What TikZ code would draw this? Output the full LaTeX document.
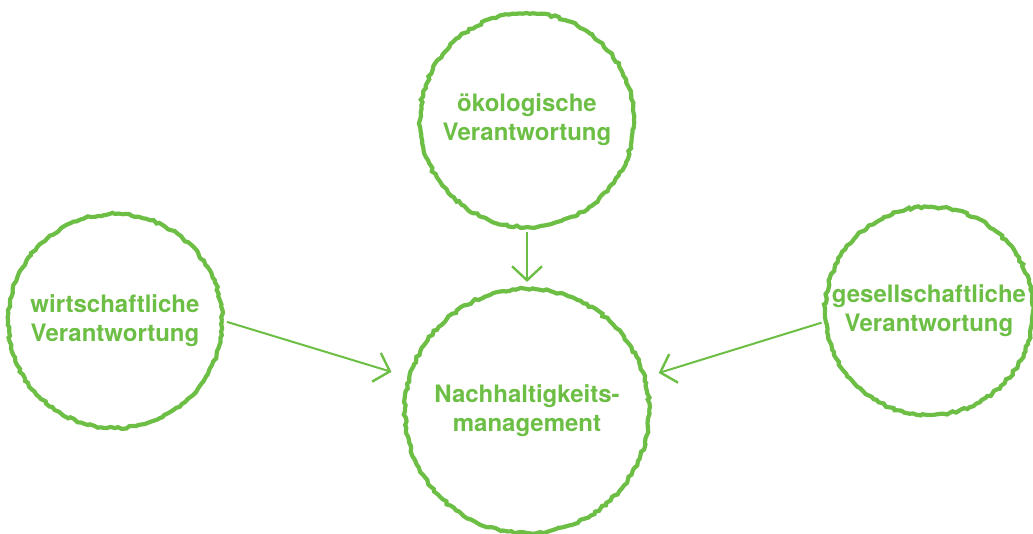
\documentclass[tikz,border=0pt]{standalone}
\usepackage{fontspec}
\setmainfont{TeX Gyre Heros}
\usetikzlibrary{arrows.meta,decorations.pathmorphing}
\definecolor{leaf}{RGB}{108,190,69}

\begin{document}
\begin{tikzpicture}[x=1pt,y=-1pt]
                \tikzstyle{circ}=[circle, draw=leaf, line width=4.2pt, inner sep=0pt,
                    decorate, decoration={random steps, segment length=3.5pt, amplitude=1.2pt},
                    text=leaf, font=\fontsize{24}{29}\selectfont\bfseries, align=center]
                \tikzstyle{pfeil}=[leaf, line width=2pt, -{Straight Barb[length=14pt, width=30pt, line width=2.4pt]}]

                \useasboundingbox (0,0) rectangle (1033,533);

                \node[circ, minimum size=214pt] (oeko) at (527,120) {ökologische\\Verantwortung};
                \node[circ, minimum size=214pt] (wirt) at (115,321) {wirtschaftliche\\Verantwortung};
                \node[circ, minimum size=208pt] (ges)  at (929,311) {gesellschaftliche\\Verantwortung};
                \node[circ, minimum size=244pt] (nach) at (527,411) {Nachhaltigkeits-\\management};

                \draw[pfeil, shorten <=3pt, shorten >=5pt] (oeko.south) -- (nach.north);
                \draw[pfeil, shorten <=3pt, shorten >=17pt] (wirt.east) -- (nach.164);
                \draw[pfeil, shorten <=2pt, shorten >=13pt] (ges.186) -- (nach.16);
            \end{tikzpicture}
\end{document}
